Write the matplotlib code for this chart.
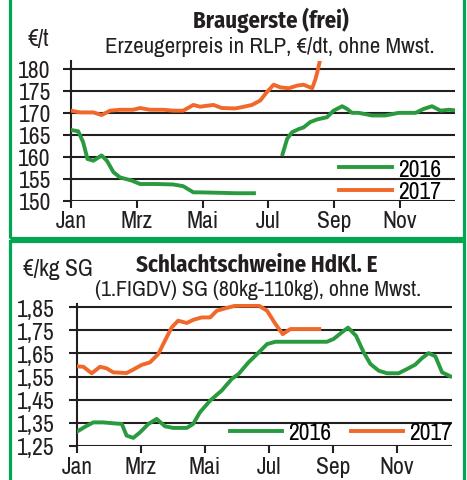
import numpy as np
import matplotlib
matplotlib.use("Agg")
import matplotlib.pyplot as plt
from matplotlib.patches import Rectangle

plt.rcParams['font.family'] = ['Archivo Narrow', 'DejaVu Sans']
BOLD_FONT = ['Fira Sans Condensed', 'DejaVu Sans']

GREEN = '#2a9a3e'
ORANGE = '#f0692a'
BORDER = '#00a651'
INK = '#231f20'

# month positions (Jan = 0) and labels
month_ticks = [0, 2, 4, 6, 8, 10]
month_labels = ['Jan', 'Mrz', 'Mai', 'Jul', 'Sep', 'Nov']

# Braugerste, EUR/t, 2016 has a gap in summer (NaN)
gerste_m16 = [0, 0.22, 0.37, 0.5, 0.68, 0.93, 1.09, 1.29, 1.49, 1.84, 2.1, 2.6, 3.1, 3.41,
              3.72, 3.92, 4.5, 5.0, 5.56, 6.0,
              6.43, 6.57, 6.72, 6.92, 7.07, 7.27, 7.48, 7.78, 7.98, 8.24, 8.39, 8.54,
              8.74, 9.15, 9.55, 9.96, 10.47, 10.72, 10.97, 11.23, 11.48, 11.78]
gerste_v16 = [166.1, 165.8, 163.3, 159.5, 159.1, 160.3, 159.1, 156.5, 155.3, 154.6, 153.8,
              153.8, 153.7, 153.3, 151.9, 151.9, 151.8, 151.7, 151.7, np.nan,
              160.6, 164.1, 165.6, 166.3, 166.7, 167.9, 168.5, 169.0, 170.5, 171.5, 170.9,
              170.0, 170.0, 169.4, 169.4, 170.0, 170.0, 170.9, 171.5, 170.5, 170.7, 170.5]
gerste_m17 = [0, 0.27, 0.68, 0.93, 1.19, 1.49, 1.89, 2.1, 2.4, 2.81, 3.11, 3.41, 3.72, 3.92,
              4.33, 4.58, 4.98, 5.2, 5.5, 5.75, 5.95, 6.16, 6.36, 6.62, 6.87, 7.07, 7.33,
              7.43, 7.51, 7.58]
gerste_v17 = [170.5, 170.1, 170.1, 169.5, 170.5, 170.7, 170.7, 171.1, 170.7, 170.7, 170.5,
              170.5, 171.8, 171.4, 171.8, 171.1, 171.0, 171.3, 171.8, 172.8, 174.7, 176.4,
              175.8, 175.6, 176.2, 176.4, 175.6, 177.7, 180.0, 182.5]
gerste_ticks = [150, 155, 160, 165, 170, 175, 180]

# Schlachtschweine, EUR/kg SG
schwein_m16 = [0, 0.25, 0.51, 0.82, 1.13, 1.4, 1.55, 1.76, 1.97, 2.23, 2.49, 2.75, 3.01, 3.43,
               3.63, 3.84, 4.16, 4.52, 4.84, 5.05, 5.36, 5.68, 5.94, 6.2, 6.61, 7.14, 7.81,
               8.02, 8.28, 8.47, 8.72, 8.96, 9.17, 9.43, 9.69, 10.05, 10.31, 10.57, 10.78,
               10.99, 11.2, 11.41, 11.67]
schwein_v16 = [1.312, 1.333, 1.352, 1.352, 1.348, 1.345, 1.295, 1.285, 1.309, 1.345, 1.367,
               1.335, 1.328, 1.328, 1.345, 1.395, 1.446, 1.489, 1.54, 1.561, 1.611, 1.654,
               1.690, 1.700, 1.700, 1.700, 1.700, 1.712, 1.741, 1.761, 1.726, 1.654, 1.604,
               1.575, 1.564, 1.564, 1.582, 1.601, 1.629, 1.651, 1.637, 1.568, 1.551]
schwein_m17 = [0, 0.2, 0.46, 0.72, 0.93, 1.13, 1.55, 1.76, 2.02, 2.28, 2.54, 2.75, 2.96, 3.16,
               3.43, 3.64, 3.9, 4.16, 4.37, 4.68, 4.93, 5.16, 5.68, 5.94, 6.2, 6.43, 6.67,
               7.14, 7.57]
schwein_v17 = [1.594, 1.592, 1.564, 1.592, 1.585, 1.568, 1.565, 1.58, 1.600, 1.611, 1.647,
               1.705, 1.762, 1.791, 1.781, 1.795, 1.805, 1.805, 1.834, 1.846, 1.855, 1.856,
               1.856, 1.834, 1.777, 1.733, 1.755, 1.755, 1.755]
schwein_ticks = [1.25, 1.35, 1.45, 1.55, 1.65, 1.75, 1.85]
schwein_tick_labels = ['1,25', '1,35', '1,45', '1,55', '1,65', '1,75', '1,85']

W, H = 467, 481
fig = plt.figure(figsize=(W / 100, H / 100), dpi=100)

FS = 17  # tick / legend / unit labels


def fx(px):
    return px / W


def fy(py):
    return 1 - py / H


def style_axes(ax, yticks, ylabels, xmax, ylim, ypad):
    ax.set_xlim(0, xmax)
    ax.set_ylim(*ylim)
    for y in yticks:
        ax.axhline(y, color=INK, lw=1.5, zorder=1)
    for s in ['top', 'right', 'bottom']:
        ax.spines[s].set_visible(False)
    ax.spines['left'].set_color(INK)
    ax.spines['left'].set_linewidth(1.5)
    ax.set_yticks(yticks)
    ax.set_yticklabels(ylabels)
    ax.set_xticks(month_ticks)
    ax.set_xticklabels(month_labels)
    ax.tick_params(axis='y', length=6, width=1.5, color=INK, labelsize=FS, pad=ypad,
                   labelcolor=INK)
    ax.tick_params(axis='x', length=5, width=1.5, color=INK, labelsize=FS, pad=2,
                   labelcolor=INK)


# top panel
ax1 = fig.add_axes([fx(71), fy(201.7), fx(455 - 71), fy(62) - fy(201.7)])
style_axes(ax1, gerste_ticks, [str(t) for t in gerste_ticks], 11.67, (150, 181.8), 8.5)
ax1.plot(gerste_m16, gerste_v16, color=GREEN, lw=2.8, label='2016', zorder=3)
ax1.plot(gerste_m17, gerste_v17, color=ORANGE, lw=2.8, label='2017', zorder=3)
ax1.legend(frameon=False, loc='center left', bbox_to_anchor=(fx(339), fy(181.5)),
           bbox_transform=fig.transFigure, fontsize=FS, handlelength=2.25,
           handletextpad=0.25, labelspacing=0.08, borderpad=0, borderaxespad=0)

fig.text(fx(271), fy(20), 'Braugerste (frei)', ha='center', va='center',
         fontsize=16.3, fontweight='bold', family=BOLD_FONT, color=INK)
fig.text(fx(270), fy(47), 'Erzeugerpreis in RLP, €/dt, ohne Mwst.', ha='center',
         va='center', fontsize=16.5, color=INK)
fig.text(fx(27), fy(40), '€/t', ha='left', va='center', fontsize=FS, color=INK)

# bottom panel
ax2 = fig.add_axes([fx(77), fy(447), fx(452 - 77), fy(305) - fy(447)])
style_axes(ax2, schwein_ticks, schwein_tick_labels, 11.72, (1.25, 1.863), 10)
ax2.plot(schwein_m16, schwein_v16, color=GREEN, lw=2.8, label='2016', zorder=3)
ax2.plot(schwein_m17, schwein_v17, color=ORANGE, lw=2.8, label='2017', zorder=3)
ax2.legend(frameon=False, loc='center left', bbox_to_anchor=(fx(230), fy(434)),
           bbox_transform=fig.transFigure, fontsize=FS, ncol=2, handlelength=2.2,
           handletextpad=0.25, columnspacing=0.85, borderpad=0, borderaxespad=0)

fig.text(fx(257), fy(265), 'Schlachtschweine HdKl. E', ha='center', va='center',
         fontsize=16.5, fontweight='bold', family=BOLD_FONT, color=INK)
fig.text(fx(258), fy(290), '(1.FIGDV) SG (80kg-110kg), ohne Mwst.', ha='center',
         va='center', fontsize=15.8, color=INK)
fig.text(fx(23), fy(270), '€/kg SG', ha='left', va='center', fontsize=FS, color=INK)

# green frames around both panels
fig.patches.append(Rectangle((fx(9.5), fy(238.5)), fx(463.5 - 9.5), fy(-10) - fy(238.5),
                             transform=fig.transFigure, fill=False, ec=BORDER, lw=2.3))
fig.patches.append(Rectangle((fx(9.5), fy(500)), fx(463.5 - 9.5), fy(241.5) - fy(500),
                             transform=fig.transFigure, fill=False, ec=BORDER, lw=2.3))

fig.savefig('out.png', dpi=100)
